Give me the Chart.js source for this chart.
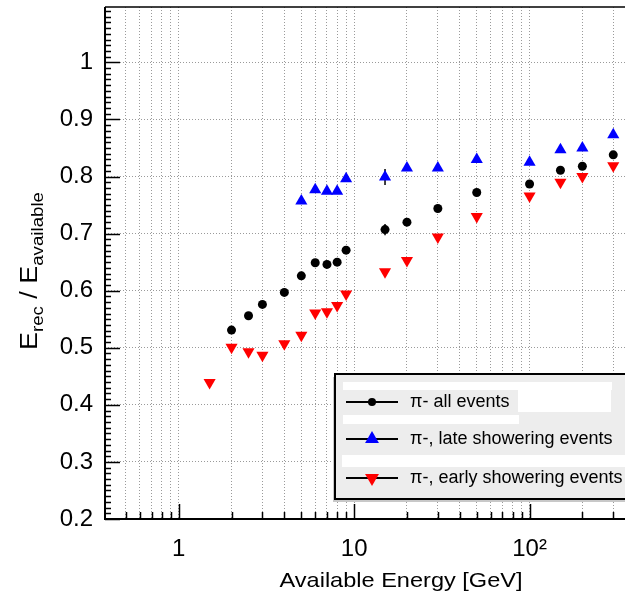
<!DOCTYPE html>
<html><head><meta charset="utf-8">
<script src="https://cdn.jsdelivr.net/npm/chart.js@4/dist/chart.umd.min.js"></script>
<style>html,body{margin:0;padding:0;background:#fff;overflow:hidden}canvas{display:block}</style>
</head><body>
<canvas id="c" width="625" height="593"></canvas>
<script>
// ---- data ----
const allX   = [2, 2.5, 3, 4, 5, 6, 7, 8, 9, 15, 20, 30, 50, 100, 150, 200, 300];
const allY   = [0.531, 0.556, 0.576, 0.597, 0.626, 0.649, 0.646, 0.650, 0.671, 0.707, 0.720, 0.744, 0.772, 0.787, 0.811, 0.818, 0.838];
const allErr = [0, 0, 0, 0, 0, 0, 0, 0, 0, 0.010, 0, 0, 0, 0, 0, 0, 0];
const lateX  = [5, 6, 7, 8, 9, 15, 20, 30, 50, 100, 150, 200, 300];
const lateY  = [0.757, 0.777, 0.774, 0.774, 0.796, 0.799, 0.815, 0.815, 0.830, 0.825, 0.847, 0.850, 0.873];
const lateErr= [0, 0, 0, 0, 0, 0.014, 0, 0, 0, 0, 0, 0, 0];
const earlyX = [1.5, 2, 2.5, 3, 4, 5, 6, 7, 8, 9, 15, 20, 30, 50, 100, 150, 200, 300];
const earlyY = [0.439, 0.501, 0.493, 0.487, 0.507, 0.522, 0.561, 0.563, 0.574, 0.594, 0.633, 0.653, 0.694, 0.730, 0.766, 0.790, 0.800, 0.819];
const earlyErr = earlyX.map(() => 0);
const seriesLabels = ['π- all events', 'π-, late showering events', 'π-, early showering events'];
const xTickValues = [0.5,0.6,0.7,0.8,0.9,1,2,3,4,5,6,7,8,9,10,20,30,40,50,60,70,80,90,100,200,300];
const xTickLabels = {1: '1', 10: '10', 100: '10²'};
const xMajor = [1, 10, 100];
const yTickValues = [0.2,0.3,0.4,0.5,0.6,0.7,0.8,0.9,1.0];
const xTitle = 'Available Energy [GeV]';
const yTitleParts = [['E', false], ['rec', true], [' / E', false], ['available', true]];

const FONT = '"Liberation Sans", Arial, Helvetica, sans-serif';
const pts = (xs, ys) => xs.map((x, i) => ({x: x, y: ys[i]}));
const errs = [allErr, lateErr, earlyErr];

const errorBars = {
  id: 'errorBars',
  beforeDatasetsDraw(chart) {
    const ctx = chart.ctx, xs = chart.scales.x, ys = chart.scales.y;
    ctx.save();
    ctx.strokeStyle = '#000'; ctx.lineWidth = 1.5;
    chart.data.datasets.forEach((ds, di) => {
      ds.data.forEach((p, i) => {
        const e = errs[di][i];
        if (!e) return;
        const px = xs.getPixelForValue(p.x);
        ctx.beginPath();
        ctx.moveTo(px, ys.getPixelForValue(p.y - e));
        ctx.lineTo(px, ys.getPixelForValue(p.y + e));
        ctx.stroke();
      });
    });
    ctx.restore();
  }
};

const frame = {
  id: 'frame',
  afterDraw(chart) {
    const ctx = chart.ctx, xs = chart.scales.x, ys = chart.scales.y, a = chart.chartArea;
    ctx.save();
    ctx.strokeStyle = '#000';
    // inward ticks y
    ctx.lineWidth = 1.5;
    for (let k = 20; k <= 109; k++) {
      const v = k / 100, py = Math.round(ys.getPixelForValue(v)) + 0.5;
      const len = (k % 10 === 0) ? 15 : 6;
      ctx.beginPath(); ctx.moveTo(a.left, py); ctx.lineTo(a.left + len, py); ctx.stroke();
    }
    // inward ticks x
    xTickValues.forEach(v => {
      const px = Math.round(xs.getPixelForValue(v)) + 0.5;
      const len = xMajor.includes(v) ? 15 : 7;
      ctx.beginPath(); ctx.moveTo(px, a.bottom); ctx.lineTo(px, a.bottom - len); ctx.stroke();
    });
    // frame
    ctx.lineWidth = 2;
    ctx.beginPath(); ctx.moveTo(a.left, a.top); ctx.lineTo(a.left, a.bottom); ctx.lineTo(a.right, a.bottom); ctx.stroke();
    ctx.lineWidth = 1.5;
    ctx.beginPath(); ctx.moveTo(a.left, a.top); ctx.lineTo(a.right, a.top); ctx.stroke();

    // legend box
    const bx = 335, by = 374, bw = 300, bh = 125;
    ctx.fillStyle = '#c8c8c8';
    ctx.fillRect(bx - 2, by + 3, bw, bh);
    ctx.fillStyle = '#ededed';
    ctx.fillRect(bx, by, bw, bh);
    ctx.fillStyle = '#ffffff';
    ctx.fillRect(343, 382, 269, 8);
    ctx.fillRect(518, 390, 93, 22);
    ctx.fillRect(343, 415, 176, 9);
    ctx.fillRect(342, 455, 283, 12);
    ctx.lineWidth = 2; ctx.strokeStyle = '#000';
    ctx.strokeRect(bx, by, bw, bh);
    const rows = [402, 439, 478];
    chart.data.datasets.forEach((ds, i) => {
      const y = rows[i];
      ctx.lineWidth = 2; ctx.strokeStyle = '#000';
      ctx.beginPath(); ctx.moveTo(346, y); ctx.lineTo(398, y); ctx.stroke();
      const opts = {pointStyle: ds.pointStyle, radius: ds.pointStyle === 'circle' ? 4 : 8,
                    rotation: ds.pointRotation || 0, borderWidth: 0};
      ctx.fillStyle = ds.backgroundColor; ctx.strokeStyle = ds.borderColor;
      if (Chart.helpers && Chart.helpers.drawPoint) {
        Chart.helpers.drawPoint(ctx, opts, 372, y);
      }
      ctx.fillStyle = '#000';
      ctx.font = '18px ' + FONT;
      ctx.textBaseline = 'middle'; ctx.textAlign = 'left';
      ctx.fillText(ds.label, 410, y);
    });

    // x title
    ctx.font = '21px ' + FONT;
    ctx.textAlign = 'left'; ctx.textBaseline = 'alphabetic'; ctx.fillStyle = '#000';
    const tw = ctx.measureText(xTitle).width;
    const sx = 243 / tw;
    ctx.save();
    ctx.translate(401 - 243 / 2, 587);
    ctx.scale(sx, 1);
    ctx.fillText(xTitle, 0, 0);
    ctx.restore();

    // y title
    ctx.save();
    ctx.translate(37, 271);
    ctx.rotate(-Math.PI / 2);
    let total = 0;
    const widths = yTitleParts.map(p => {
      ctx.font = (p[1] ? 16 : 23) + 'px ' + FONT;
      const w = ctx.measureText(p[0]).width; total += w; return w;
    });
    const s = 158 / total;
    ctx.scale(s, 1);
    let x = -total / 2;
    yTitleParts.forEach((p, i) => {
      ctx.font = (p[1] ? 16 : 23) + 'px ' + FONT;
      ctx.fillText(p[0], x, p[1] ? 6 : 0);
      x += widths[i];
    });
    ctx.restore();
    ctx.restore();
  }
};

new Chart(document.getElementById('c'), {
  type: 'scatter',
  data: {
    datasets: [
      {label: seriesLabels[0], data: pts(allX, allY), pointStyle: 'circle', pointRadius: 4.5,
       backgroundColor: '#000000', borderColor: '#000000', borderWidth: 0},
      {label: seriesLabels[1], data: pts(lateX, lateY), pointStyle: 'triangle', pointRadius: 7,
       backgroundColor: '#0000ff', borderColor: '#0000ff', borderWidth: 0},
      {label: seriesLabels[2], data: pts(earlyX, earlyY), pointStyle: 'triangle', pointRadius: 7, pointRotation: 180,
       backgroundColor: '#ff0000', borderColor: '#ff0000', borderWidth: 0}
    ]
  },
  options: {
    responsive: false, animation: false, devicePixelRatio: 1,
    layout: {padding: {top: 7, right: 0, left: 0, bottom: 0}, autoPadding: false},
    plugins: {legend: {display: false}, tooltip: {enabled: false}},
    scales: {
      x: {
        type: 'logarithmic', position: 'bottom', min: 0.38, max: 350,
        afterBuildTicks: sc => { sc.ticks = xTickValues.map(v => ({value: v})); },
        afterFit: sc => { sc.height = 74; sc.paddingLeft = 0; sc.paddingRight = 0; sc.paddingTop = 0; sc.paddingBottom = 0; },
        ticks: {autoSkip: false, maxRotation: 0, minRotation: 0, padding: 16, color: '#000',
                font: {size: 24, family: FONT},
                callback: v => xTickLabels[v] || ''},
        grid: {color: '#9a9a9a', lineWidth: 1, drawTicks: false},
        border: {display: false, dash: [1, 2]}
      },
      y: {
        type: 'linear', min: 0.2, max: 1.097,
        afterBuildTicks: sc => { sc.ticks = yTickValues.map(v => ({value: v})); },
        afterFit: sc => { sc.width = 105; sc.paddingLeft = 0; sc.paddingRight = 0; sc.paddingTop = 0; sc.paddingBottom = 0; },
        ticks: {padding: 12, color: '#000', font: {size: 24, family: FONT},
                callback: v => Math.abs(v - 1) < 1e-9 ? '1' : v.toFixed(1)},
        grid: {color: '#9a9a9a', lineWidth: 1, drawTicks: false},
        border: {display: false, dash: [1, 2]}
      }
    }
  },
  plugins: [errorBars, frame]
});
</script>
</body></html>
